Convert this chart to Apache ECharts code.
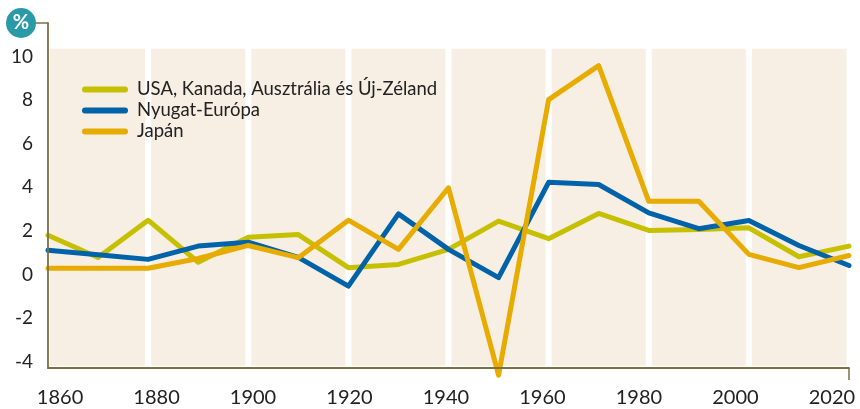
<!DOCTYPE html>
<html>
<head>
<meta charset="utf-8">
<script src="https://cdn.jsdelivr.net/npm/echarts@6/dist/echarts.min.js"></script>
<style>
  html, body { margin: 0; padding: 0; background: #fff; }
  #chart { width: 860px; height: 409px; }
</style>
</head>
<body>
<div id="chart"></div>
<script>
// decades 1860..2020
const years = [1860, 1870, 1880, 1890, 1900, 1910, 1920, 1930, 1940, 1950,
  1960, 1970, 1980, 1990, 2000, 2010, 2020];
const angolszasz = [1.8, 0.78, 2.49, 0.56, 1.71, 1.83, 0.31, 0.46, 1.15, 2.45,
  1.64, 2.8, 2.02, 2.06, 2.14, 0.81, 1.3];
const nyugatEuropa = [1.11, 0.9, 0.69, 1.3, 1.48, 0.78, -0.54, 2.78, 1.15, -0.15,
  4.23, 4.13, 2.83, 2.1, 2.48, 1.33, 0.41];
const japan = [0.28, 0.28, 0.28, 0.73, 1.33, 0.77, 2.49, 1.15, 3.98, -4.63,
  8.03, 9.59, 3.36, 3.36, 0.92, 0.31, 0.87];
const seriesNames = ['USA, Kanada, Ausztrália és Új-Zéland', 'Nyugat-Európa', 'Japán'];
const xTicks = [1860, 1880, 1900, 1920, 1940, 1960, 1980, 2000, 2020];
const yTicks = [-4, -2, 0, 2, 4, 6, 8, 10];

const colors = ['#c6c000', '#0062a8', '#e8ab00'];
const axisColor = '#7b7048';
const font = 'Lato';

const chart = echarts.init(document.getElementById('chart'));

// beige bands, 20 years each, small white gap at every 20-year mark
const bands = [];
for (let i = 0; i < xTicks.length - 1; i++) {
  bands.push([
    { xAxis: xTicks[i] + (i === 0 ? 0.3 : 0.6), yAxis: 10.37 },
    { xAxis: xTicks[i + 1] - (i === xTicks.length - 2 ? 0.5 : 0.6), yAxis: -4.2 }
  ]);
}

const makeLine = (name, values, color) => ({
  name: name,
  type: 'line',
  data: years.map((y, i) => [y, values[i]]),
  symbol: 'none',
  clip: false,
  lineStyle: { color: color, width: 5, cap: 'round', join: 'round' },
  itemStyle: { color: color },
  z: 3
});

const legendIcon = 'path://M3,0 L43,0 A3,3 0 0 1 43,6 L3,6 A3,3 0 0 1 3,0 Z';

chart.setOption({
  animation: false,
  grid: { left: 48, right: 11, top: 23, bottom: 41 },
  legend: {
    orient: 'vertical',
    left: 77,
    top: 75,
    itemWidth: 46,
    itemHeight: 6,
    itemGap: 2,
    icon: legendIcon,
    textStyle: { fontFamily: font, fontSize: 18.5, color: '#222', lineHeight: 16.5, padding: [0, 0, 0, 4] },
    data: seriesNames
  },
  xAxis: [
    {
      type: 'value',
      min: 1860,
      max: 2020,
      z: 5,
      axisLine: { show: true, onZero: false, lineStyle: { color: axisColor, width: 1.8 } },
      axisTick: { show: true, customValues: [2020], length: 12, lineStyle: { color: axisColor, width: 1.5 } },
      axisLabel: { show: false },
      splitLine: { show: false }
    },
    {
      // label axis: the printed year labels sit slightly compressed
      type: 'value',
      position: 'bottom',
      min: 1857.5,
      max: 2023.55,
      axisLine: { show: false, onZero: false },
      axisTick: { show: false },
      splitLine: { show: false },
      axisLabel: {
        customValues: xTicks,
        margin: 20,
        fontFamily: font,
        fontSize: 20,
        color: '#222',
        formatter: v => String(v)
      }
    }
  ],
  yAxis: {
    type: 'value',
    min: -4.3,
    max: 11.55,
    z: 5,
    axisLine: { show: true, onZero: false, lineStyle: { color: axisColor, width: 1.8 } },
    axisTick: { show: false },
    splitLine: { show: false },
    axisLabel: {
      customValues: yTicks,
      margin: 15,
      fontFamily: font,
      fontSize: 19,
      color: '#222'
    }
  },
  graphic: [
    {
      type: 'line',
      shape: { x1: 34, y1: 23, x2: 48, y2: 23 },
      style: { stroke: axisColor, lineWidth: 1.5 },
      z: 10
    },
    {
      type: 'circle',
      shape: { cx: 21, cy: 23, r: 15 },
      style: { fill: '#2a9aa9' },
      z: 11
    },
    {
      type: 'text',
      x: 21,
      y: 23,
      style: {
        text: '%',
        fill: '#fff',
        fontFamily: font,
        fontWeight: 'bold',
        fontSize: 20,
        align: 'center',
        verticalAlign: 'middle'
      },
      z: 12
    }
  ],
  series: [
    {
      name: '__bands',
      type: 'line',
      data: [],
      silent: true,
      z: 1,
      markArea: {
        silent: true,
        itemStyle: { color: '#f7efe3' },
        data: bands
      }
    },
    makeLine(seriesNames[0], angolszasz, colors[0]),
    makeLine(seriesNames[1], nyugatEuropa, colors[1]),
    makeLine(seriesNames[2], japan, colors[2])
  ]
});
</script>
</body>
</html>
